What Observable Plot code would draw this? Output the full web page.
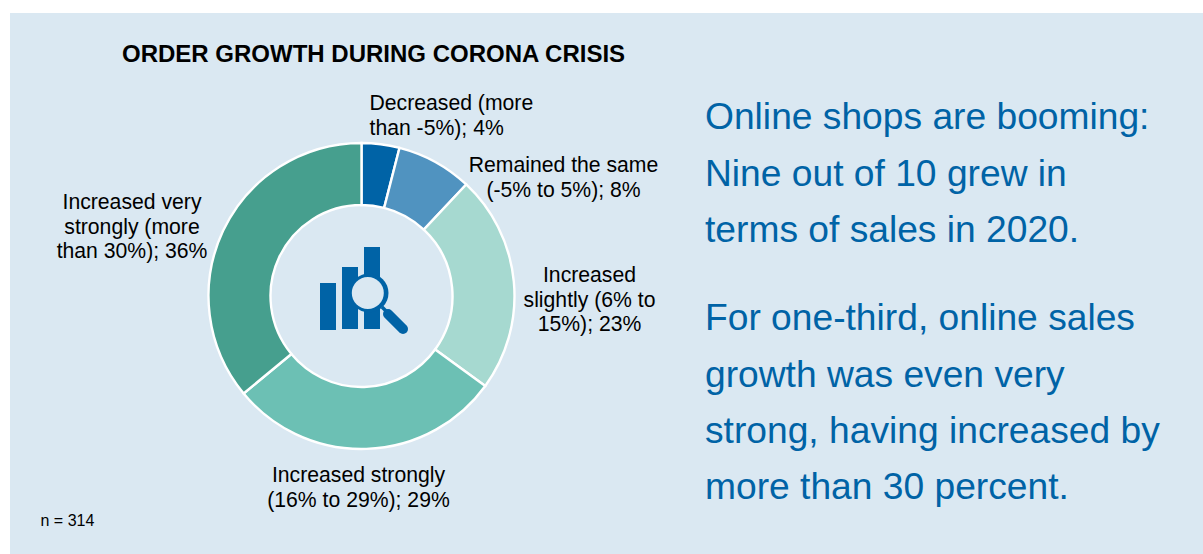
<!DOCTYPE html>
<html>
<head>
<meta charset="utf-8">
<script src="https://cdn.jsdelivr.net/npm/d3@7"></script>
<script src="https://cdn.jsdelivr.net/npm/@observablehq/plot@0.6"></script>
<style>
  html, body { margin: 0; padding: 0; background: #fff; width: 1203px; height: 554px; overflow: hidden; }
  #panel { position: absolute; left: 10px; top: 13px; right: 0; bottom: 0; background: #dae8f2; }
  #chart { position: absolute; left: 0; top: 0; }
</style>
</head>
<body>
<div id="panel"></div>
<div id="chart"></div>
<script>
const categories = [
  "Decreased (more than -5%)",
  "Remained the same (-5% to 5%)",
  "Increased slightly (6% to 15%)",
  "Increased strongly (16% to 29%)",
  "Increased very strongly (more than 30%)"
];
const shares = [4, 8, 23, 29, 36];
const sliceColors = ["#0063a6", "#5093c0", "#a6d9d0", "#6cc0b4", "#469f8e"];
const titleText = "ORDER GROWTH DURING CORONA CRISIS";
const sampleNote = "n = 314";
const headline = "Online shops are booming:\nNine out of 10 grew in\nterms of sales in 2020.";
const followUp = "For one-third, online sales\ngrowth was even very\nstrong, having increased by\nmore than 30 percent.";

const rows = categories.map((category, i) => ({category, share: shares[i]}));
const labelOf = (i, text) => `${text}; ${shares[i]}%`;

const FONT = "Liberation Sans, Arial, sans-serif";
const CX = 361.5, CY = 296, R_OUT = 153, R_IN = 91;

// Turns the stacked bars into ring segments: the x scale maps shares to radians.
function ringSegments(index, scales, values) {
  const arc = d3.arc().innerRadius(R_IN).outerRadius(R_OUT);
  const g = d3.create("svg:g").attr("transform", `translate(${CX},${CY})`);
  for (const i of index) {
    g.append("path")
      .attr("d", arc({startAngle: values.x1[i], endAngle: values.x2[i]}))
      .attr("fill", values.fill[i])
      .attr("stroke", "#fff")
      .attr("stroke-width", 2.4);
  }
  return g.node();
}

// Bar-chart-under-a-magnifier pictogram in the hole of the ring.
function magnifierIcon() {
  const blue = "#0063a6";
  const g = d3.create("svg:g");
  for (const [x, y, w, h] of [[320, 283, 16, 47], [342, 267, 16, 62], [364, 247, 16, 82]]) {
    g.append("rect").attr("x", x).attr("y", y).attr("width", w).attr("height", h).attr("fill", blue);
  }
  g.append("circle").attr("cx", 369).attr("cy", 293).attr("r", 19.5).attr("fill", blue);
  g.append("circle").attr("cx", 367.8).attr("cy", 293).attr("r", 16).attr("fill", "#dae8f2");
  g.append("line").attr("x1", 382).attr("y1", 307).attr("x2", 389).attr("y2", 314)
    .attr("stroke", blue).attr("stroke-width", 3.5);
  g.append("line").attr("x1", 388).attr("y1", 314).attr("x2", 403).attr("y2", 329)
    .attr("stroke", blue).attr("stroke-width", 10).attr("stroke-linecap", "round");
  return g.node();
}

const textAt = (text, dx, dy, options = {}) =>
  Plot.text([text], {
    text: d => d,
    frameAnchor: "top-left",
    lineAnchor: "top",
    dx, dy,
    fontFamily: FONT,
    fontSize: 21.2,
    lineHeight: 1.15,
    fill: "#000",
    textAnchor: "middle",
    ...options
  });

const chart = Plot.plot({
  width: 1203,
  height: 554,
  margin: 0,
  style: {background: "transparent"},
  x: {domain: [0, 100], range: [0, 2 * Math.PI], axis: null},
  color: {domain: categories, range: sliceColors},
  marks: [
    Plot.barX(rows, Plot.stackX({
      x: "share",
      fill: "category",
      order: null,
      render: ringSegments
    })),
    magnifierIcon,
    textAt(titleText, 121.5, 42, {textAnchor: "start", fontSize: 24, fontWeight: "bold"}),
    textAt(labelOf(0, "Decreased (more\nthan -5%)"), 369, 92.5, {textAnchor: "start"}),
    textAt(labelOf(1, "Remained the same\n(-5% to 5%)"), 563, 154.5),
    textAt(labelOf(2, "Increased\nslightly (6% to\n15%)"), 589, 264.5),
    textAt(labelOf(3, "Increased strongly\n(16% to 29%)"), 358, 464.5),
    textAt(labelOf(4, "Increased very\nstrongly (more\nthan 30%)"), 131.5, 191.5),
    textAt(sampleNote, 40, 512.5, {textAnchor: "start", fontSize: 16}),
    textAt(headline, 704.5, 89, {textAnchor: "start", fontSize: 37.2, lineHeight: 1.51, fill: "#0063a6"}),
    textAt(followUp, 704.5, 290, {textAnchor: "start", fontSize: 37.2, lineHeight: 1.51, fill: "#0063a6"})
  ]
});
document.getElementById("chart").append(chart);
</script>
</body>
</html>
